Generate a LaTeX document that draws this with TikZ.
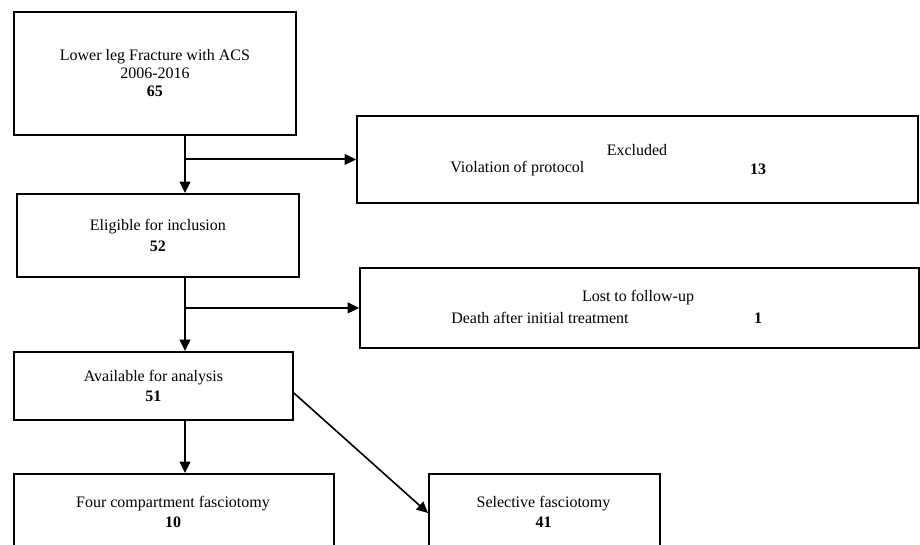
\documentclass[tikz,border=0pt]{standalone}
\usepackage{fontspec}
\setmainfont{Liberation Serif}
\usetikzlibrary{arrows.meta,calc}
\begin{document}
\begin{tikzpicture}[x=0.75pt,y=-0.75pt,
  box/.style 2 args={draw, line width=1.4pt, minimum width=#1*0.75pt, minimum height=#2*0.75pt,
    inner sep=0pt, anchor=north west, align=center, font=\fontsize{12}{13.5}\selectfont},
  txt/.style={inner sep=0pt, align=center, font=\fontsize{12}{13.5}\selectfont},
  arr/.style={line width=1.4pt, -{Triangle[length=8.5pt,width=8pt]}},
  ln/.style={line width=1.4pt}]
\path[use as bounding box] (0,0) rectangle (920,545);
\clip (0,0) rectangle (920,545);

% boxes
\node[box={282}{123}] (start) at (13,11) {Lower leg Fracture with ACS\\2006-2016\\\textbf{65}};
\node[box={282}{83}] (elig) at (16,193) {Eligible for inclusion\\[2.5pt]\textbf{52}};
\node[box={279}{68}] (avail) at (13,351) {Available for analysis\\[1pt]\textbf{51}};
\node[box={561}{87}] (excl) at (356,115) {};
\node[box={559}{80}] (lost) at (359,267) {};
\node[box={320}{130}] (four) at (13,473) {};
\node[box={231}{130}] (sel) at (428,473) {};

% texts in side boxes
\node[txt] (exclT) at (637,150) {Excluded};
\node[txt, anchor=west] (exclR) at (450,169) {Violation of protocol};
\node[txt] (exclN) at (758,169) {\textbf{13}};
\node[txt] (lostT) at (638,298) {Lost to follow-up};
\node[txt, anchor=west] (lostR) at (451,318) {Death after initial treatment};
\node[txt] (lostN) at (758,318) {\textbf{1}};
\node[txt] (fourT) at (173,512) {Four compartment fasciotomy\\[1pt]\textbf{10}};
\node[txt] (selT) at (543.5,512) {Selective fasciotomy\\[1pt]\textbf{41}};

% connectors
\coordinate (spine) at (185,0);
\draw[arr] (start.south -| spine) -- (elig.north -| spine);
\draw[arr] (spine |- excl.west) -- (excl.west);
\draw[arr] (elig.south -| spine) -- (avail.north -| spine);
\draw[arr] (spine |- lost.west) -- (lost.west);
\draw[arr] (avail.south -| spine) -- (four.north -| spine);
\draw[arr, line width=1.2pt] ($(avail.north east)+(0,42)$) -- ($(sel.north west)+(0,40)$);
\end{tikzpicture}
\end{document}
